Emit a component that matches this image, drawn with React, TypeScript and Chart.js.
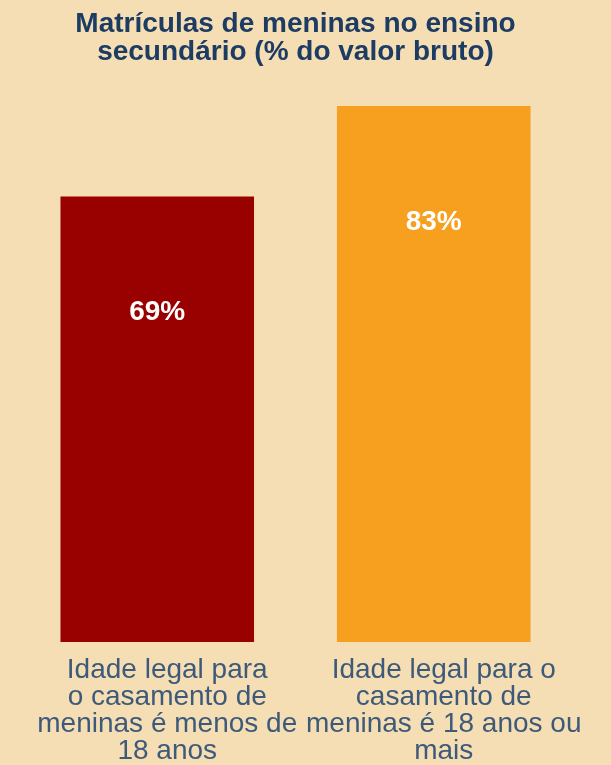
import React, { useEffect, useRef } from "react";
import { Chart, registerables } from "chart.js";

Chart.register(...registerables);

const categories: string[][] = [
  ["Idade legal para", "o casamento de", "meninas é menos de", "18 anos"],
  ["Idade legal para o", "casamento de", "meninas é 18 anos ou", "mais"],
];
const values: number[] = [69, 83];
const barColors: string[] = ["#990000", "#F79F1F"];
const titleLines: string[] = ["Matrículas de meninas no ensino", "secundário (% do valor bruto)"];

const FONT = "'Liberation Sans', Arial, sans-serif";

const labelPlugin = {
  id: "barLabels",
  afterDatasetsDraw(chart: any) {
    const ctx = chart.ctx;
    const meta = chart.getDatasetMeta(0);
    ctx.save();
    ctx.font = `bold 28px ${FONT}`;
    ctx.fillStyle = "#FFFFFF";
    ctx.textAlign = "center";
    ctx.textBaseline = "middle";
    meta.data.forEach((el: any, i: number) => {
      ctx.fillText(`${values[i]}%`, el.x, el.y + 116);
    });
    ctx.restore();
  },
};

export default function App() {
  const ref = useRef<HTMLCanvasElement | null>(null);
  useEffect(() => {
    document.body.style.margin = "0";
    document.body.style.background = "#F5DEB3";
    const chart = new Chart(ref.current as HTMLCanvasElement, {
      type: "bar",
      data: {
        labels: categories,
        datasets: [
          {
            data: values,
            backgroundColor: barColors,
            borderWidth: 0,
            categoryPercentage: 1,
            barPercentage: 0.7,
          },
        ],
      },
      options: {
        animation: false,
        responsive: false,
        maintainAspectRatio: false,
        layout: { padding: { left: 19, right: 39, top: 0, bottom: -15 } },
        plugins: {
          legend: { display: false },
          tooltip: { enabled: false },
          title: {
            display: true,
            text: titleLines,
            color: "#1D3C63",
            font: { family: FONT, size: 28, weight: "bold", lineHeight: 1.0 },
            padding: { top: 10, bottom: 40 },
          },
        },
        scales: {
          x: {
            grid: { display: false, drawTicks: false },
            border: { display: false },
            ticks: {
              color: "#3E5A7A",
              font: { family: FONT, size: 28, lineHeight: 0.965 },
              padding: 15,
              labelOffset: 10,
              maxRotation: 0,
              autoSkip: false,
            },
          },
          y: {
            display: false,
            min: 0,
            max: 83,
          },
        },
      },
      plugins: [labelPlugin],
    });
    return () => chart.destroy();
  }, []);
  return (
    <div style={{ width: 611, height: 765, background: "#F5DEB3" }}>
      <canvas ref={ref} width={611} height={765} style={{ display: "block" }} />
    </div>
  );
}
